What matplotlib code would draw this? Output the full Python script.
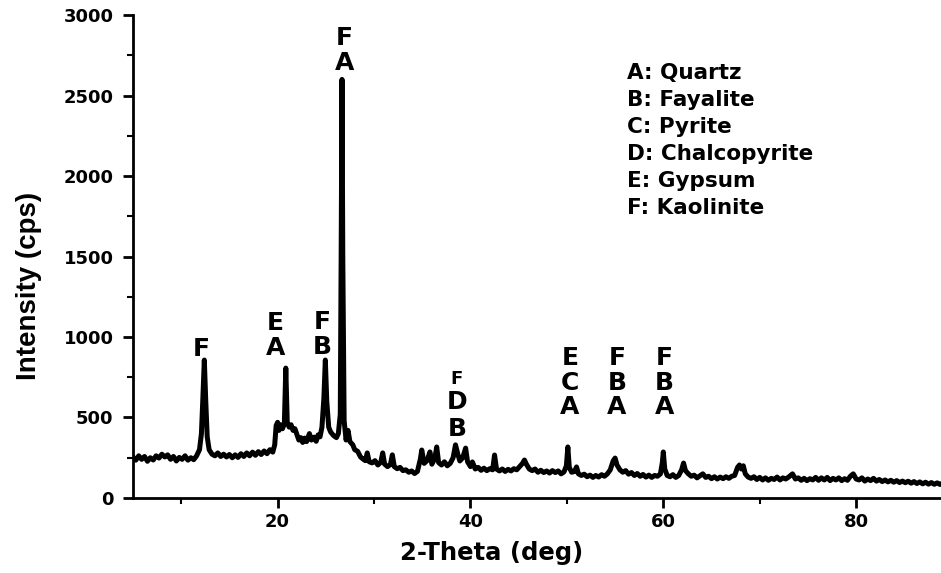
import matplotlib
matplotlib.use("Agg")
import matplotlib.pyplot as plt
from matplotlib.ticker import MultipleLocator

# XRD trace (2-theta in deg, intensity in cps)
two_theta = [
    5.0, 5.3, 5.6, 5.9, 6.2, 6.5, 6.8, 7.1, 7.4, 7.7, 8.0, 8.3, 8.6, 8.9, 9.2, 9.5, 9.8,
    10.1, 10.4, 10.7, 11.0, 11.3, 11.6, 11.9, 12.1, 12.25, 12.4, 12.55, 12.7, 12.9,
    13.2, 13.5, 13.8, 14.1, 14.4, 14.7, 15.0, 15.3, 15.6, 15.9, 16.2, 16.5, 16.8,
    17.1, 17.4, 17.7, 18.0, 18.3, 18.6, 18.9, 19.2, 19.5, 19.7, 19.85, 20.0, 20.15,
    20.3, 20.5, 20.7, 20.85, 21.0, 21.2, 21.4, 21.6, 21.8, 22.0, 22.2, 22.4, 22.6,
    22.8, 23.0, 23.3, 23.5, 23.8, 24.0, 24.2, 24.4, 24.6, 24.8, 24.95, 25.1, 25.3,
    25.5, 25.8, 26.1, 26.3, 26.5, 26.6, 26.68, 26.76, 26.9, 27.1, 27.3, 27.5, 27.8,
    28.0, 28.3, 28.6, 28.9, 29.1, 29.3, 29.5, 29.8, 30.1, 30.4, 30.7, 30.9, 31.1,
    31.4, 31.7, 31.9, 32.1, 32.4, 32.7, 33.0, 33.3, 33.6, 33.9, 34.2, 34.5, 34.8,
    34.95, 35.2, 35.5, 35.8, 36.0, 36.3, 36.5, 36.7, 37.0, 37.3, 37.6, 37.9, 38.2,
    38.45, 38.7, 38.9, 39.2, 39.5, 39.7, 40.0, 40.2, 40.5, 40.8, 41.1, 41.4, 41.7,
    42.0, 42.3, 42.5, 42.7, 43.0, 43.3, 43.6, 43.9, 44.2, 44.5, 44.8, 45.1, 45.4,
    45.6, 45.8, 46.1, 46.4, 46.7, 47.0, 47.3, 47.6, 47.9, 48.2, 48.5, 48.8, 49.1,
    49.4, 49.7, 49.95, 50.1, 50.25, 50.5, 50.8, 51.0, 51.2, 51.5, 51.8, 52.1, 52.4,
    52.7, 53.0, 53.3, 53.6, 53.9, 54.2, 54.5, 54.8, 55.0, 55.2, 55.5, 55.8, 56.1,
    56.4, 56.7, 57.0, 57.3, 57.6, 57.9, 58.2, 58.5, 58.8, 59.1, 59.4, 59.7, 59.9,
    60.0, 60.15, 60.4, 60.7, 61.0, 61.3, 61.6, 61.9, 62.1, 62.3, 62.6, 62.9, 63.2,
    63.5, 63.8, 64.1, 64.4, 64.7, 65.0, 65.3, 65.6, 65.9, 66.2, 66.5, 66.8, 67.1,
    67.4, 67.7, 67.9, 68.1, 68.3, 68.5, 68.8, 69.1, 69.4, 69.7, 70.0, 70.3, 70.6,
    70.9, 71.2, 71.5, 71.8, 72.1, 72.4, 72.7, 73.0, 73.4, 73.7, 74.0, 74.3, 74.6,
    74.9, 75.2, 75.5, 75.8, 76.1, 76.4, 76.7, 77.0, 77.3, 77.6, 77.9, 78.2, 78.5,
    78.8, 79.1, 79.4, 79.7, 80.0, 80.3, 80.6, 80.9, 81.2, 81.5, 81.8, 82.1, 82.4,
    82.7, 83.0, 83.3, 83.6, 83.9, 84.2, 84.5, 84.8, 85.1, 85.4, 85.7, 86.0, 86.3,
    86.6, 86.9, 87.2, 87.5, 87.8, 88.1, 88.4, 88.7, 89.0,
]
intensity = [
    255, 235, 262, 240, 258, 228, 250, 236, 262, 248, 272, 255, 268, 240, 258, 230, 252,
    240, 262, 235, 250, 238, 262, 300, 400, 620, 857, 600, 380, 300,
    272, 262, 280, 258, 272, 255, 270, 250, 268, 252, 275, 258, 280,
    262, 285, 265, 288, 270, 292, 275, 300, 285, 330, 450, 470, 420,
    455, 430, 460, 807, 470, 440, 455, 420, 430, 395, 360, 375, 345,
    372, 350, 400, 360, 378, 352, 392, 380, 440, 620, 857, 600, 440,
    410, 388, 375, 400, 520, 1600, 2600, 1500, 480, 360, 420, 350, 330,
    300, 290, 255, 240, 232, 280, 225, 218, 232, 205, 222, 280, 210,
    195, 208, 268, 195, 182, 190, 170, 175, 160, 168, 152, 165, 240,
    298, 215, 232, 286, 210, 245, 317, 220, 205, 225, 200, 215, 250,
    330, 270, 230, 250, 310, 225, 195, 224, 180, 190, 172, 185, 170,
    182, 175, 267, 180, 168, 180, 165, 178, 168, 182, 175, 195, 215,
    236, 210, 180, 170, 180, 160, 172, 158, 168, 155, 170, 158, 168,
    150, 162, 200, 317, 190, 160, 165, 193, 150, 140, 148, 132, 142,
    128, 140, 130, 145, 135, 150, 175, 230, 248, 205, 175, 160, 170,
    148, 158, 140, 152, 135, 146, 130, 142, 128, 140, 135, 150, 220,
    286, 180, 140, 132, 145, 128, 140, 175, 217, 170, 150, 135, 142,
    125, 138, 150, 128, 135, 120, 132, 118, 130, 120, 132, 122, 135,
    140, 190, 205, 180, 200, 150, 130, 122, 132, 115, 128, 112, 125,
    110, 122, 115, 130, 112, 125, 118, 130, 150, 118, 125, 110, 122,
    108, 120, 112, 128, 110, 125, 112, 128, 108, 122, 112, 125, 108,
    120, 110, 135, 150, 118, 112, 125, 105, 118, 108, 122, 105, 115,
    102, 112, 100, 110, 98, 108, 96, 105, 95, 104, 92, 102, 90,
    100, 88, 98, 86, 96, 85, 94, 84, 92,
]

# peak labels: position, letter, size
label_x = [12.1, 19.8, 19.8, 24.6, 24.6, 26.9, 26.9, 38.6, 38.6, 38.6,
           50.3, 50.3, 50.3, 55.2, 55.2, 55.2, 60.1, 60.1, 60.1]
label_y = [925, 1087, 932, 1093, 938, 2857, 2702, 739, 596, 429,
           870, 714, 565, 870, 714, 565, 870, 714, 565]
label_txt = ["F", "E", "A", "F", "B", "F", "A", "F", "D", "B",
             "E", "C", "A", "F", "B", "A", "F", "B", "A"]
label_size = [18, 18, 18, 18, 18, 18, 18, 13, 18, 18,
              18, 18, 18, 18, 18, 18, 18, 18, 18]

phases = ["A: Quartz", "B: Fayalite", "C: Pyrite", "D: Chalcopyrite",
          "E: Gypsum", "F: Kaolinite"]

plt.rcParams['font.family'] = ['DejaVu Sans']
plt.rcParams['font.weight'] = 'bold'

fig = plt.figure(figsize=(9.41, 5.73), dpi=100)
ax = fig.add_axes([0.1413, 0.1309, 0.8587, 0.8429])

ax.plot(two_theta, intensity, color='black', linewidth=3.6, solid_joinstyle='round')

for x, y, t, s in zip(label_x, label_y, label_txt, label_size):
    ax.text(x, y, t, ha='center', va='center', fontsize=s, fontweight='bold')

for i, p in enumerate(phases):
    ax.text(56.2, 2640 - i * 168, p, ha='left', va='center', fontsize=15.5, fontweight='bold')

ax.set_xlim(5, 88.8)
ax.set_ylim(0, 3000)
ax.xaxis.set_major_locator(MultipleLocator(20))
ax.xaxis.set_minor_locator(MultipleLocator(10))
ax.yaxis.set_major_locator(MultipleLocator(500))
ax.yaxis.set_minor_locator(MultipleLocator(250))

for s in ['top', 'right']:
    ax.spines[s].set_visible(False)
for s in ['left', 'bottom']:
    ax.spines[s].set_linewidth(2)

ax.tick_params(which='major', length=7, width=2, labelsize=13)
ax.tick_params(which='minor', length=4, width=1.5)
ax.tick_params(axis='y', which='major', pad=7)

ax.set_xlabel("2-Theta (deg)", fontsize=17.5, fontweight='bold')
ax.xaxis.set_label_coords(0.444, -0.09)
ax.set_ylabel("Intensity (cps)", fontsize=20, fontweight='bold',
              family=['Liberation Sans Narrow', 'Liberation Sans'])
ax.yaxis.set_label_coords(-0.112, 0.44)

fig.savefig("out.png", dpi=100)
